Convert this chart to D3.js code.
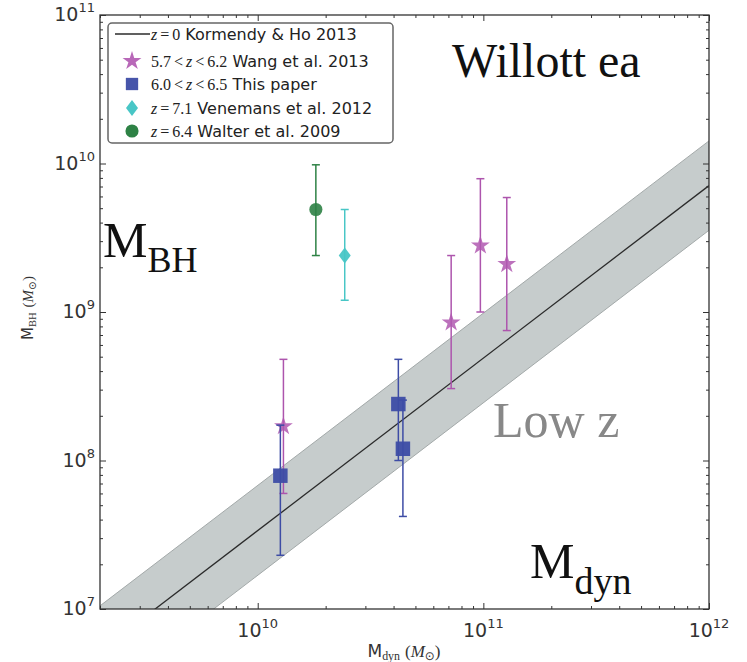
<!DOCTYPE html>
<html lang="en">
<head>
<meta charset="UTF-8">
<title>MBH vs Mdyn</title>
<style>
  body { margin: 0; background: #fff; }
  .ann { font-family: "Liberation Serif", "Times New Roman", serif; }
</style>
</head>
<body>
<div id="chart"></div>
<script src="https://d3js.org/d3.v7.min.js"></script>
<script>
"use strict";

// Kormendy & Ho 2013 relation, read at the left and right edges of the plot
var relMdyn = [2e9, 1e12];
var relMbh = [5.2e6, 7.1e9];
var relLow = [2.6e6, 3.55e9];
var relHigh = [1.05e7, 1.42e10];

// Wang et al. 2013 (stars)
var wangMdyn = [1.3e10, 7.2e10, 9.7e10, 1.27e11];
var wangMbh = [1.7e8, 8.5e8, 2.8e9, 2.1e9];
var wangLo = [6.0e7, 3.05e8, 1.0e9, 7.5e8];
var wangHi = [4.8e8, 2.4e9, 7.9e9, 5.9e9];

// This paper (squares)
var paperMdyn = [1.26e10, 4.2e10, 4.4e10];
var paperMbh = [7.9e7, 2.4e8, 1.2e8];
var paperLo = [2.3e7, 1.0e8, 4.2e7];
var paperHi = [1.73e8, 4.8e8, 2.55e8];

// Venemans et al. 2012 (diamond)
var venMdyn = [2.43e10];
var venMbh = [2.4e9];
var venLo = [1.2e9];
var venHi = [4.9e9];

// Walter et al. 2009 (circle)
var walMdyn = [1.81e10];
var walMbh = [4.9e9];
var walLo = [2.4e9];
var walHi = [9.8e9];

var xMajor = [1e10, 1e11, 1e12];
var yMajor = [1e7, 1e8, 1e9, 1e10, 1e11];

var W = 747, H = 662;
var pL = 100, pR = 709, pT = 15, pB = 609;

var svg = d3.select("#chart").append("svg")
    .attr("width", W).attr("height", H);

svg.append("rect").attr("width", W).attr("height", H).attr("fill", "#fff");

var x = d3.scaleLog().domain([2e9, 1e12]).range([pL, pR]);
var y = d3.scaleLog().domain([1e7, 1e11]).range([pB, pT]);

svg.append("clipPath").attr("id", "clip")
    .append("rect").attr("x", pL).attr("y", pT)
    .attr("width", pR - pL).attr("height", pB - pT);

var plot = svg.append("g").attr("clip-path", "url(#clip)");

// band
var bandPts = relMdyn.map(function (m, i) { return [x(m), y(relHigh[i])]; })
    .concat(relMdyn.map(function (m, i) { return [x(m), y(relLow[i])]; }).reverse());
plot.append("path")
    .attr("d", d3.line()(bandPts) + "Z")
    .attr("fill", "#c6cccc")
    .attr("stroke", "#a3a9a9")
    .attr("stroke-width", 1);

plot.append("path")
    .attr("d", d3.line()(relMdyn.map(function (m, i) { return [x(m), y(relMbh[i])]; })))
    .attr("stroke", "#2b2b2b")
    .attr("stroke-width", 1.3)
    .attr("fill", "none");

// error bars + markers
function series(mdyn, mbh, lo, hi, color, barColor, symbol, opacity) {
    var g = plot.append("g");
    mdyn.forEach(function (m, i) {
        var cx = x(m), y1 = y(lo[i]), y2 = y(hi[i]);
        g.append("line").attr("x1", cx).attr("x2", cx).attr("y1", y1).attr("y2", y2)
            .attr("stroke", barColor).attr("stroke-width", 1.5);
        [y1, y2].forEach(function (yy) {
            g.append("line").attr("x1", cx - 4).attr("x2", cx + 4).attr("y1", yy).attr("y2", yy)
                .attr("stroke", barColor).attr("stroke-width", 1.5);
        });
    });
    mdyn.forEach(function (m, i) {
        g.append("path")
            .attr("d", symbol)
            .attr("transform", "translate(" + x(m) + "," + y(mbh[i]) + ")")
            .attr("fill", color)
            .attr("fill-opacity", opacity);
    });
}

var starSym = d3.symbol().type(d3.symbolStar).size(110)();
var squareSym = d3.symbol().type(d3.symbolSquare).size(210)();
var circleSym = d3.symbol().type(d3.symbolCircle).size(135)();
var diamondSym = "M0,-8L6,0L0,8L-6,0Z";

series(venMdyn, venMbh, venLo, venHi, "#48c6c6", "#48c6c6", diamondSym, 0.95);
series(walMdyn, walMbh, walLo, walHi, "#2e8245", "#2e8245", circleSym, 0.9);
series(wangMdyn, wangMbh, wangLo, wangHi, "#b058b0", "#ad55ad", starSym, 0.85);
series(paperMdyn, paperMbh, paperLo, paperHi, "#3d4ca5", "#3d4ca5", squareSym, 0.95);

// ticks (inward, all four sides)
function minor(scale) {
    return scale.ticks().filter(function (v) {
        var l = Math.log10(v); return Math.abs(l - Math.round(l)) > 1e-6;
    });
}
var axes = [
    [d3.axisBottom(x), "translate(0," + pB + ")", xMajor, minor(x)],
    [d3.axisTop(x), "translate(0," + pT + ")", xMajor, minor(x)],
    [d3.axisLeft(y), "translate(" + pL + ",0)", yMajor, minor(y)],
    [d3.axisRight(y), "translate(" + pR + ",0)", yMajor, minor(y)]
];
axes.forEach(function (a) {
    svg.append("g").attr("transform", a[1])
        .call(a[0].tickValues(a[2]).tickSizeInner(-6).tickSizeOuter(0).tickFormat(""))
        .call(function (g) { g.select(".domain").remove(); g.selectAll("line").attr("stroke", "#333"); });
    svg.append("g").attr("transform", a[1])
        .call(a[0].tickValues(a[3]).tickSizeInner(-3).tickSizeOuter(0).tickFormat(""))
        .call(function (g) { g.select(".domain").remove(); g.selectAll("line").attr("stroke", "#333"); });
});

svg.append("rect")
    .attr("x", pL).attr("y", pT)
    .attr("width", pR - pL).attr("height", pB - pT)
    .attr("fill", "none").attr("stroke", "#333").attr("stroke-width", 1.3);

// tick labels 10^n
function powLabel(px, py, v, anchor) {
    var t = svg.append("text")
        .attr("x", px).attr("y", py)
        .attr("text-anchor", anchor)
        .attr("font-family", "DejaVu Sans, sans-serif")
        .attr("font-size", 19)
        .attr("fill", "#333");
    t.append("tspan").text("10");
    t.append("tspan").attr("dy", -9).attr("font-size", 13).text(Math.round(Math.log10(v)));
}
xMajor.forEach(function (v) { powLabel(x(v), 637, v, "middle"); });
yMajor.forEach(function (v) { powLabel(95, y(v) + 6, v, "end"); });

// axis titles
function axisTitle(g, sub, size) {
    var s = size * 0.7;
    g.append("tspan").text("M");
    g.append("tspan").attr("dy", 3).attr("font-size", s).attr("font-family", "Liberation Serif, serif").text(sub);
    g.append("tspan").attr("dy", -3).attr("dx", 5).attr("font-family", "Liberation Serif, serif").text("(");
    g.append("tspan").attr("font-style", "italic").attr("font-family", "Liberation Serif, serif").text("M");
    g.append("tspan").attr("dy", 3).attr("font-size", s).text("⊙");
    g.append("tspan").attr("dy", -3).attr("font-family", "Liberation Serif, serif").text(")");
}
axisTitle(svg.append("text")
    .attr("x", 404).attr("y", 657)
    .attr("text-anchor", "middle")
    .attr("font-family", "DejaVu Sans, sans-serif")
    .attr("font-size", 17).attr("fill", "#333"), "dyn", 17);

axisTitle(svg.append("text")
    .attr("transform", "translate(33,308) rotate(-90)")
    .attr("text-anchor", "middle")
    .attr("font-family", "DejaVu Sans, sans-serif")
    .attr("font-size", 15).attr("fill", "#333"), "BH", 15);

// legend
var legendMath = ["z=0", "5.7<z<6.2", "6.0<z<6.5", "z=7.1", "z=6.4"];
var legendText = ["Kormendy & Ho 2013", "Wang et al. 2013", "This paper", "Venemans et al. 2012", "Walter et al. 2009"];
var legendRows = [34, 61, 84, 108, 131];

var lg = svg.append("g");
lg.append("rect")
    .attr("x", 108).attr("y", 23).attr("width", 285).attr("height", 120)
    .attr("rx", 4).attr("fill", "#fff").attr("stroke", "#666").attr("stroke-width", 1.5);

lg.append("line").attr("x1", 115).attr("x2", 150).attr("y1", legendRows[0]).attr("y2", legendRows[0])
    .attr("stroke", "#2b2b2b").attr("stroke-width", 1.3);
var legendSyms = [null,
    [starSym, "#b058b0", 0.9],
    [squareSym, "#3d4ca5", 0.95],
    [diamondSym, "#48c6c6", 1],
    [circleSym, "#2e8245", 1]];
legendSyms.forEach(function (s, i) {
    if (!s) return;
    lg.append("path").attr("d", s[0])
        .attr("transform", "translate(132," + legendRows[i] + ")" + (i === 2 ? " scale(0.85)" : ""))
        .attr("fill", s[1]).attr("fill-opacity", s[2]);
});

legendMath.forEach(function (m, i) {
    var t = lg.append("text")
        .attr("x", 151).attr("y", legendRows[i] + 5.5)
        .attr("font-size", 16).attr("fill", "#222")
        .attr("font-family", "Liberation Serif, serif");
    var gap = 0;
    m.split(/(z|<|=)/).filter(function (p) { return p !== ""; }).forEach(function (p) {
        var rel = (p === "<" || p === "=");
        var sp = t.append("tspan").text(p);
        if (gap || rel) sp.attr("dx", rel ? 3 : gap);
        gap = rel ? 3 : 0;
        if (p === "z") sp.attr("font-style", "italic");
    });
    t.append("tspan").attr("font-family", "DejaVu Sans, sans-serif").attr("font-size", 16)
        .text(" " + legendText[i]);
});

// annotations
svg.append("text").attr("class", "ann")
    .attr("x", 452).attr("y", 77).attr("font-size", 48).attr("fill", "#111")
    .text("Willott ea");

var mbh = svg.append("text").attr("class", "ann")
    .attr("x", 103).attr("y", 257).attr("font-size", 50).attr("fill", "#111");
mbh.append("tspan").text("M");
mbh.append("tspan").attr("dy", 15).attr("font-size", 36).text("BH");

svg.append("text").attr("class", "ann")
    .attr("x", 493).attr("y", 437).attr("font-size", 50).attr("fill", "#888")
    .text("Low z");

var mdyn = svg.append("text").attr("class", "ann")
    .attr("x", 530).attr("y", 578).attr("font-size", 50).attr("fill", "#111");
mdyn.append("tspan").text("M");
mdyn.append("tspan").attr("dy", 16).attr("font-size", 38).text("dyn");
</script>
</body>
</html>
